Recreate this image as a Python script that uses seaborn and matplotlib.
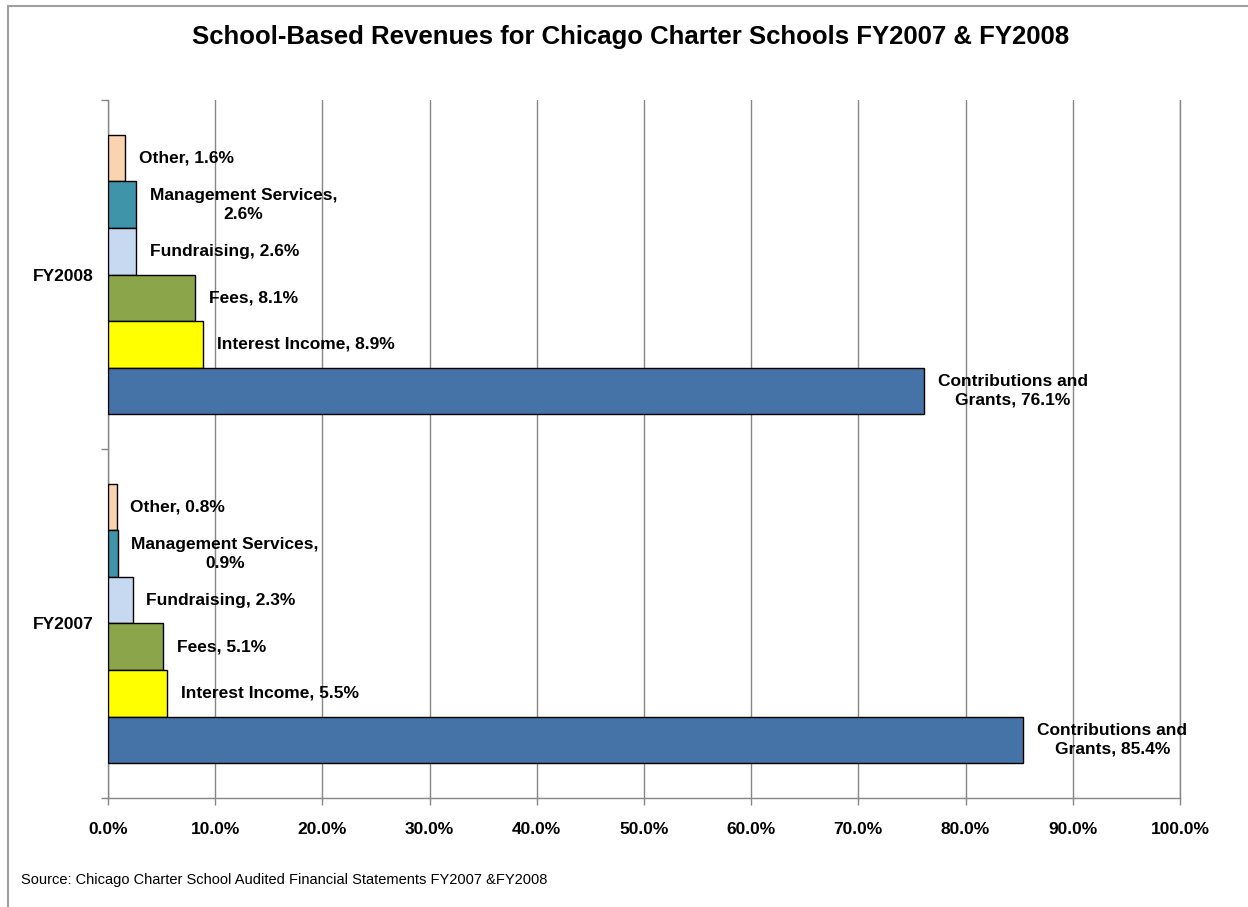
import pandas as pd
import numpy as np
import seaborn as sns
import matplotlib.pyplot as plt
from matplotlib.patches import Rectangle
from matplotlib.ticker import FuncFormatter, FixedLocator

sns.set_style("white")
plt.rcParams['font.family'] = ['Liberation Sans', 'DejaVu Sans']
plt.rcParams['text.color'] = 'black'
plt.rcParams['xtick.labelcolor'] = 'black'
plt.rcParams['ytick.labelcolor'] = 'black'

years = ['FY2008', 'FY2007']
sources = ['Other', 'Management Services', 'Fundraising', 'Fees',
           'Interest Income', 'Contributions and Grants']
fy2008 = [1.6, 2.6, 2.6, 8.1, 8.9, 76.1]
fy2007 = [0.8, 0.9, 2.3, 5.1, 5.5, 85.4]
# how each data label is broken over lines
label_fmt = ['Other, {}', 'Management Services,\n{}', 'Fundraising, {}', 'Fees, {}',
             'Interest Income, {}', 'Contributions and\nGrants, {}']
colors = ['#FAD3B0', '#3F94AA', '#C6D9F0', '#8AA54A', '#FFFF00', '#4572A7']

df = pd.DataFrame({
    'year': ['FY2008'] * len(sources) + ['FY2007'] * len(sources),
    'source': sources * 2,
    'share': fy2008 + fy2007,
})

fig = plt.figure(figsize=(12.48, 9.07), dpi=100)
ax = fig.add_axes([0.0865, 0.1202, 0.859, 0.7695])

sns.barplot(data=df, y='year', x='share', hue='source', order=years,
            hue_order=sources, palette=colors, saturation=1, orient='h',
            edgecolor='black', linewidth=1, width=0.8, legend=False, ax=ax,
            errorbar=None, zorder=3)

# data labels next to each bar
for i, cont in enumerate(ax.containers):
    for bar in cont:
        v = bar.get_width()
        ax.annotate(label_fmt[i].format(f'{v:.1f}%'),
                    xy=(v, bar.get_y() + bar.get_height() / 2),
                    xytext=(10, 0), textcoords='offset points',
                    ha='left', va='center', multialignment='center',
                    fontsize=12.5, fontweight='bold', linespacing=1.35, zorder=4)

ax.set_xlim(0, 100)
ax.set_ylim(1.5, -0.5)
ax.xaxis.set_major_locator(FixedLocator(np.arange(0, 101, 10)))
ax.xaxis.set_major_formatter(FuncFormatter(lambda x, p: f'{x:.1f}%'))
ax.grid(axis='x', color='#868686', linewidth=1, zorder=0)
ax.grid(axis='y', visible=False)
# last gridline sits on the axes edge, draw it unclipped
ax.axvline(100, color='#868686', linewidth=1, clip_on=False, zorder=0)

ax.yaxis.set_major_locator(FixedLocator([-0.5, 0.5, 1.5]))
ax.yaxis.set_major_formatter(FuncFormatter(lambda y, p: ''))
ax.yaxis.set_minor_locator(FixedLocator([0, 1]))
ax.yaxis.set_minor_formatter(FuncFormatter(lambda y, p: years[int(round(y))]))
ax.tick_params(axis='y', which='major', left=True, length=5, color='#868686', width=1)
ax.tick_params(axis='y', which='minor', left=True, length=0, pad=10,
               labelsize=12.5)
ax.tick_params(axis='x', bottom=True, length=5, color='#868686', width=1,
               pad=12, labelsize=12.5)
for lab in ax.get_xticklabels() + ax.get_yticklabels(minor=True):
    lab.set_fontweight('bold')

for s in ['top', 'right']:
    ax.spines[s].set_visible(False)
for s in ['left', 'bottom']:
    ax.spines[s].set_color('#868686')
    ax.spines[s].set_linewidth(1)
ax.set_xlabel('')
ax.set_ylabel('')

fig.text(0.505, 0.959, 'School-Based Revenues for Chicago Charter Schools FY2007 & FY2008',
         ha='center', va='center', fontsize=18.5, fontweight='bold')
fig.text(0.0168, 0.030, 'Source: Chicago Charter School Audited Financial Statements FY2007 &FY2008',
         ha='left', va='center', fontsize=10.5)

# chart frame (only the top and left edges fall inside the picture)
fig.add_artist(Rectangle((0.0064, -0.1), 1.2, 1.1 - 0.0066, transform=fig.transFigure,
                         fill=False, edgecolor='#A0A0A0', linewidth=1.5))

fig.savefig('out.png', dpi=100)
